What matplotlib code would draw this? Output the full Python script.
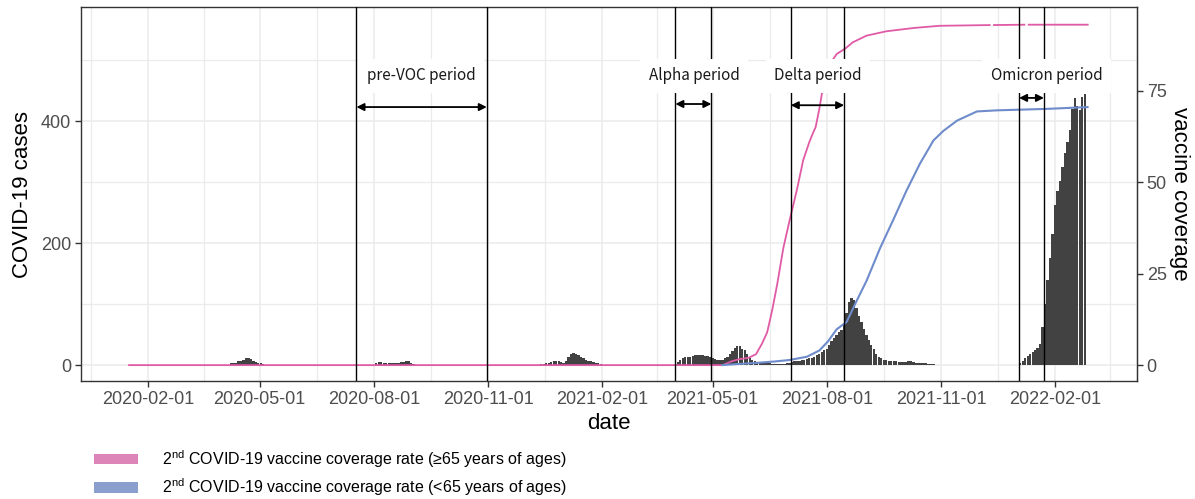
import numpy as np
import matplotlib
matplotlib.use("Agg")
import matplotlib.pyplot as plt
import matplotlib.dates as mdates
from matplotlib.patches import Patch

# ---------------------------------------------------------------------------
# Daily COVID-19 cases (one value per 2-day bin)
# ---------------------------------------------------------------------------
BIN_DAYS = 2

wave1_start = "2020-04-07"
wave1_cases = [3, 4, 4, 6, 7, 9, 11, 12, 10, 7, 5, 4, 3, 2, 1]

wave2_start = "2020-07-31"
wave2_cases = [1, 4, 5, 5, 4, 3, 3, 3, 4, 4, 4, 5, 5, 6, 6, 4, 2, 1]

wave3_start = "2020-12-13"
wave3_cases = [2, 2, 3, 3, 5, 6, 7, 6, 5, 4, 7, 14, 18, 20, 18, 16, 13, 11,
               9, 7, 6, 5, 4, 3, 2]

wave4_start = "2021-03-31"
wave4_cases = [1, 5, 9, 12, 13, 14, 14, 15, 16, 16, 17, 16, 15, 15, 14, 12,
               10, 9, 9, 9, 11, 14, 19, 23, 28, 32, 31, 27, 24, 18, 12,
               8, 6, 5, 4, 4, 3, 3, 3, 2, 2, 2, 2, 2, 2, 3]

wave5_start = "2021-07-01"
wave5_cases = [4, 5, 6, 6, 7, 8, 8, 10, 11, 12, 14, 16, 18, 21, 24, 27,
               33, 39, 45, 50, 54, 58, 68, 85, 104, 110, 106, 94, 80, 70, 60,
               50, 42, 33, 26, 19, 14, 11, 9, 8, 7, 7, 6, 6, 5, 5,
               5, 5, 6, 6, 5, 4, 4, 3, 3, 3, 2, 2, 2, 1, 1, 1]

wave6_start = "2022-01-03"
wave6_cases = [4, 7, 11, 15, 19, 22, 25, 28, 35, 62, 100, 140, 175, 215, 262,
               285, 302, 325, 348, 365, 385, 420, 438, 425, 418, 440, 445]

# ---------------------------------------------------------------------------
# 2nd-dose vaccine coverage (%)
# ---------------------------------------------------------------------------
old_dates = ["2020-01-16", "2021-05-09", "2021-05-16", "2021-05-22", "2021-05-30",
             "2021-06-05", "2021-06-10", "2021-06-14", "2021-06-18", "2021-06-22",
             "2021-06-27", "2021-07-02", "2021-07-08", "2021-07-13", "2021-07-18",
             "2021-07-21", "2021-07-23", "2021-07-26", "2021-07-29", "2021-08-02",
             "2021-08-05", "2021-08-09", "2021-08-16", "2021-08-22", "2021-09-02",
             "2021-09-18", "2021-10-10", "2021-10-31", "2021-12-11", "2021-12-12",
             "2021-12-13", "2022-01-08", "2022-01-09", "2022-01-10", "2022-02-28"]
old_cov = [0, 0, 1.0, 1.6, 2.0,
           3.0, 6, 9, 15, 22,
           32, 39.5, 48, 56, 61,
           63.5, 65, 70, 76, 80.5,
           83, 85, 86.5, 88.2, 90,
           91.2, 92.1, 92.7, 92.9, np.nan,
           92.9, 93.0, np.nan, 93.0, 93.0]

young_dates = ["2021-05-08", "2021-05-21", "2021-06-05", "2021-06-20", "2021-07-02",
               "2021-07-16", "2021-07-26", "2021-08-02", "2021-08-09", "2021-08-17",
               "2021-08-25", "2021-09-02", "2021-09-13", "2021-09-24", "2021-10-04",
               "2021-10-15", "2021-10-26", "2021-11-03", "2021-11-14", "2021-11-30",
               "2021-12-16", "2022-01-25", "2022-02-28"]
young_cov = [0, 0.3, 0.6, 1.0, 1.4,
             2.3, 4.0, 6.5, 9.8, 11.8,
             17.5, 23, 32, 40, 47.5,
             55, 61.4, 64, 66.8, 69.3,
             69.6, 70.0, 70.5]

# ---------------------------------------------------------------------------
# Variant periods
# ---------------------------------------------------------------------------
period_names = ["pre-VOC period", "Alpha period", "Delta period", "Omicron period"]
period_start = ["2020-07-18", "2021-04-01", "2021-07-03", "2022-01-03"]
period_end = ["2020-10-31", "2021-04-30", "2021-08-15", "2022-01-23"]
period_label_at = ["2020-09-08", "2021-04-16", "2021-07-25", "2022-01-25"]
arrow_level = [423, 428, 426, 438]
label_level = 474

x_ticks = ["2020-02-01", "2020-05-01", "2020-08-01", "2020-11-01", "2021-02-01",
           "2021-05-01", "2021-08-01", "2021-11-01", "2022-02-01"]

SEC_SCALE = 6.0   # cases per % coverage on the secondary axis

PINK = "#E05AA6"
BLUE = "#6E8BCB"
PINK_KEY = "#DD85B8"
BLUE_KEY = "#8A9FCD"
TEXT_FONT = ["Liberation Sans", "DejaVu Sans"]
LABEL_FONT = ["Noto Sans CJK JP", "DejaVu Sans"]

plt.rcParams["font.family"] = TEXT_FONT
plt.rcParams["mathtext.default"] = "regular"

d = mdates.datestr2num

fig = plt.figure(figsize=(11.95, 4.99), dpi=100)
W, H = 1195, 499
ax = fig.add_axes([81 / W, 1 - 381 / H, (1137 - 81) / W, (381 - 7) / H])

# bars
for start, vals in [(wave1_start, wave1_cases), (wave2_start, wave2_cases),
                    (wave3_start, wave3_cases), (wave4_start, wave4_cases),
                    (wave5_start, wave5_cases), (wave6_start, wave6_cases)]:
    xs = d(start) + np.arange(len(vals)) * BIN_DAYS
    ax.bar(xs, vals, width=BIN_DAYS * 0.92, align="edge", color="#424242",
           linewidth=0, zorder=2)

# coverage lines (on case scale)
ax.plot(d(old_dates), np.array(old_cov) * SEC_SCALE, color=PINK, lw=1.3,
        solid_capstyle="butt", zorder=3)
ax.plot(d(young_dates), np.array(young_cov) * SEC_SCALE, color=BLUE, lw=1.5,
        solid_capstyle="butt", zorder=3)

# periods
for name, s, e, lab, ya in zip(period_names, period_start, period_end,
                               period_label_at, arrow_level):
    for xv in (s, e):
        ax.axvline(d(xv), color="black", lw=1.0, zorder=4)
    ax.annotate("", xy=(d(e), ya), xytext=(d(s), ya),
                arrowprops=dict(arrowstyle="<|-|>", color="black", lw=1.3,
                                shrinkA=0, shrinkB=0, mutation_scale=11),
                zorder=5)
    ax.text(d(lab), label_level, name, ha="center", va="center", fontsize=11,
            family=LABEL_FONT, color="#1a1a1a", zorder=6,
            bbox=dict(boxstyle="square,pad=0.55", fc="white", ec="none"))

# axes
ax.set_xlim(d("2019-12-09"), d("2022-04-08"))
ax.set_ylim(-26, 587)

major_x = d(x_ticks)
edges = np.concatenate([[d("2019-11-01")], major_x, [d("2022-05-01")]])
minor_x = (edges[:-1] + edges[1:]) / 2
ax.set_xticks(major_x)
ax.set_xticklabels(x_ticks)
ax.set_xticks(minor_x, minor=True)
ax.set_yticks([0, 200, 400])
ax.set_yticks([100, 300, 500], minor=True)

ax.set_axisbelow(True)
ax.grid(which="major", color="#EBEBEB", lw=1.1)
ax.grid(which="minor", color="#EBEBEB", lw=0.9)
ax.tick_params(which="minor", length=0)
ax.tick_params(which="major", direction="out", length=4, width=1,
               color="#333333", labelsize=13, labelcolor="#4D4D4D", pad=3)
for sp in ax.spines.values():
    sp.set_color("#333333")
    sp.set_linewidth(1.0)

ax.set_ylabel("COVID-19 cases", fontsize=16, labelpad=6)
ax.set_xlabel("date", fontsize=16, labelpad=4)

sec = ax.secondary_yaxis("right", functions=(lambda y: y / SEC_SCALE,
                                             lambda v: v * SEC_SCALE))
sec.set_yticks([0, 25, 50, 75])
sec.tick_params(direction="out", length=4, width=1, color="#333333",
                labelsize=13, labelcolor="#4D4D4D", pad=3)
sec.spines["right"].set_color("#333333")
sec.set_ylabel("vaccine coverage", fontsize=16, rotation=270, labelpad=17)

# legend
handles = [Patch(facecolor=PINK_KEY, edgecolor="none"),
           Patch(facecolor=BLUE_KEY, edgecolor="none")]
labels = [r"2$^{nd}$ COVID-19 vaccine coverage rate (≥65 years of ages)",
          r"2$^{nd}$ COVID-19 vaccine coverage rate (<65 years of ages)"]
fig.legend(handles, labels, loc="upper left", bbox_to_anchor=(94 / W, 1 - 448 / H),
           frameon=False, prop={"family": TEXT_FONT, "size": 11.5},
           handlelength=2.75, handleheight=0.6, handletextpad=1.5,
           labelspacing=0.42, borderpad=0, borderaxespad=0)

fig.savefig("out.png", dpi=100)
